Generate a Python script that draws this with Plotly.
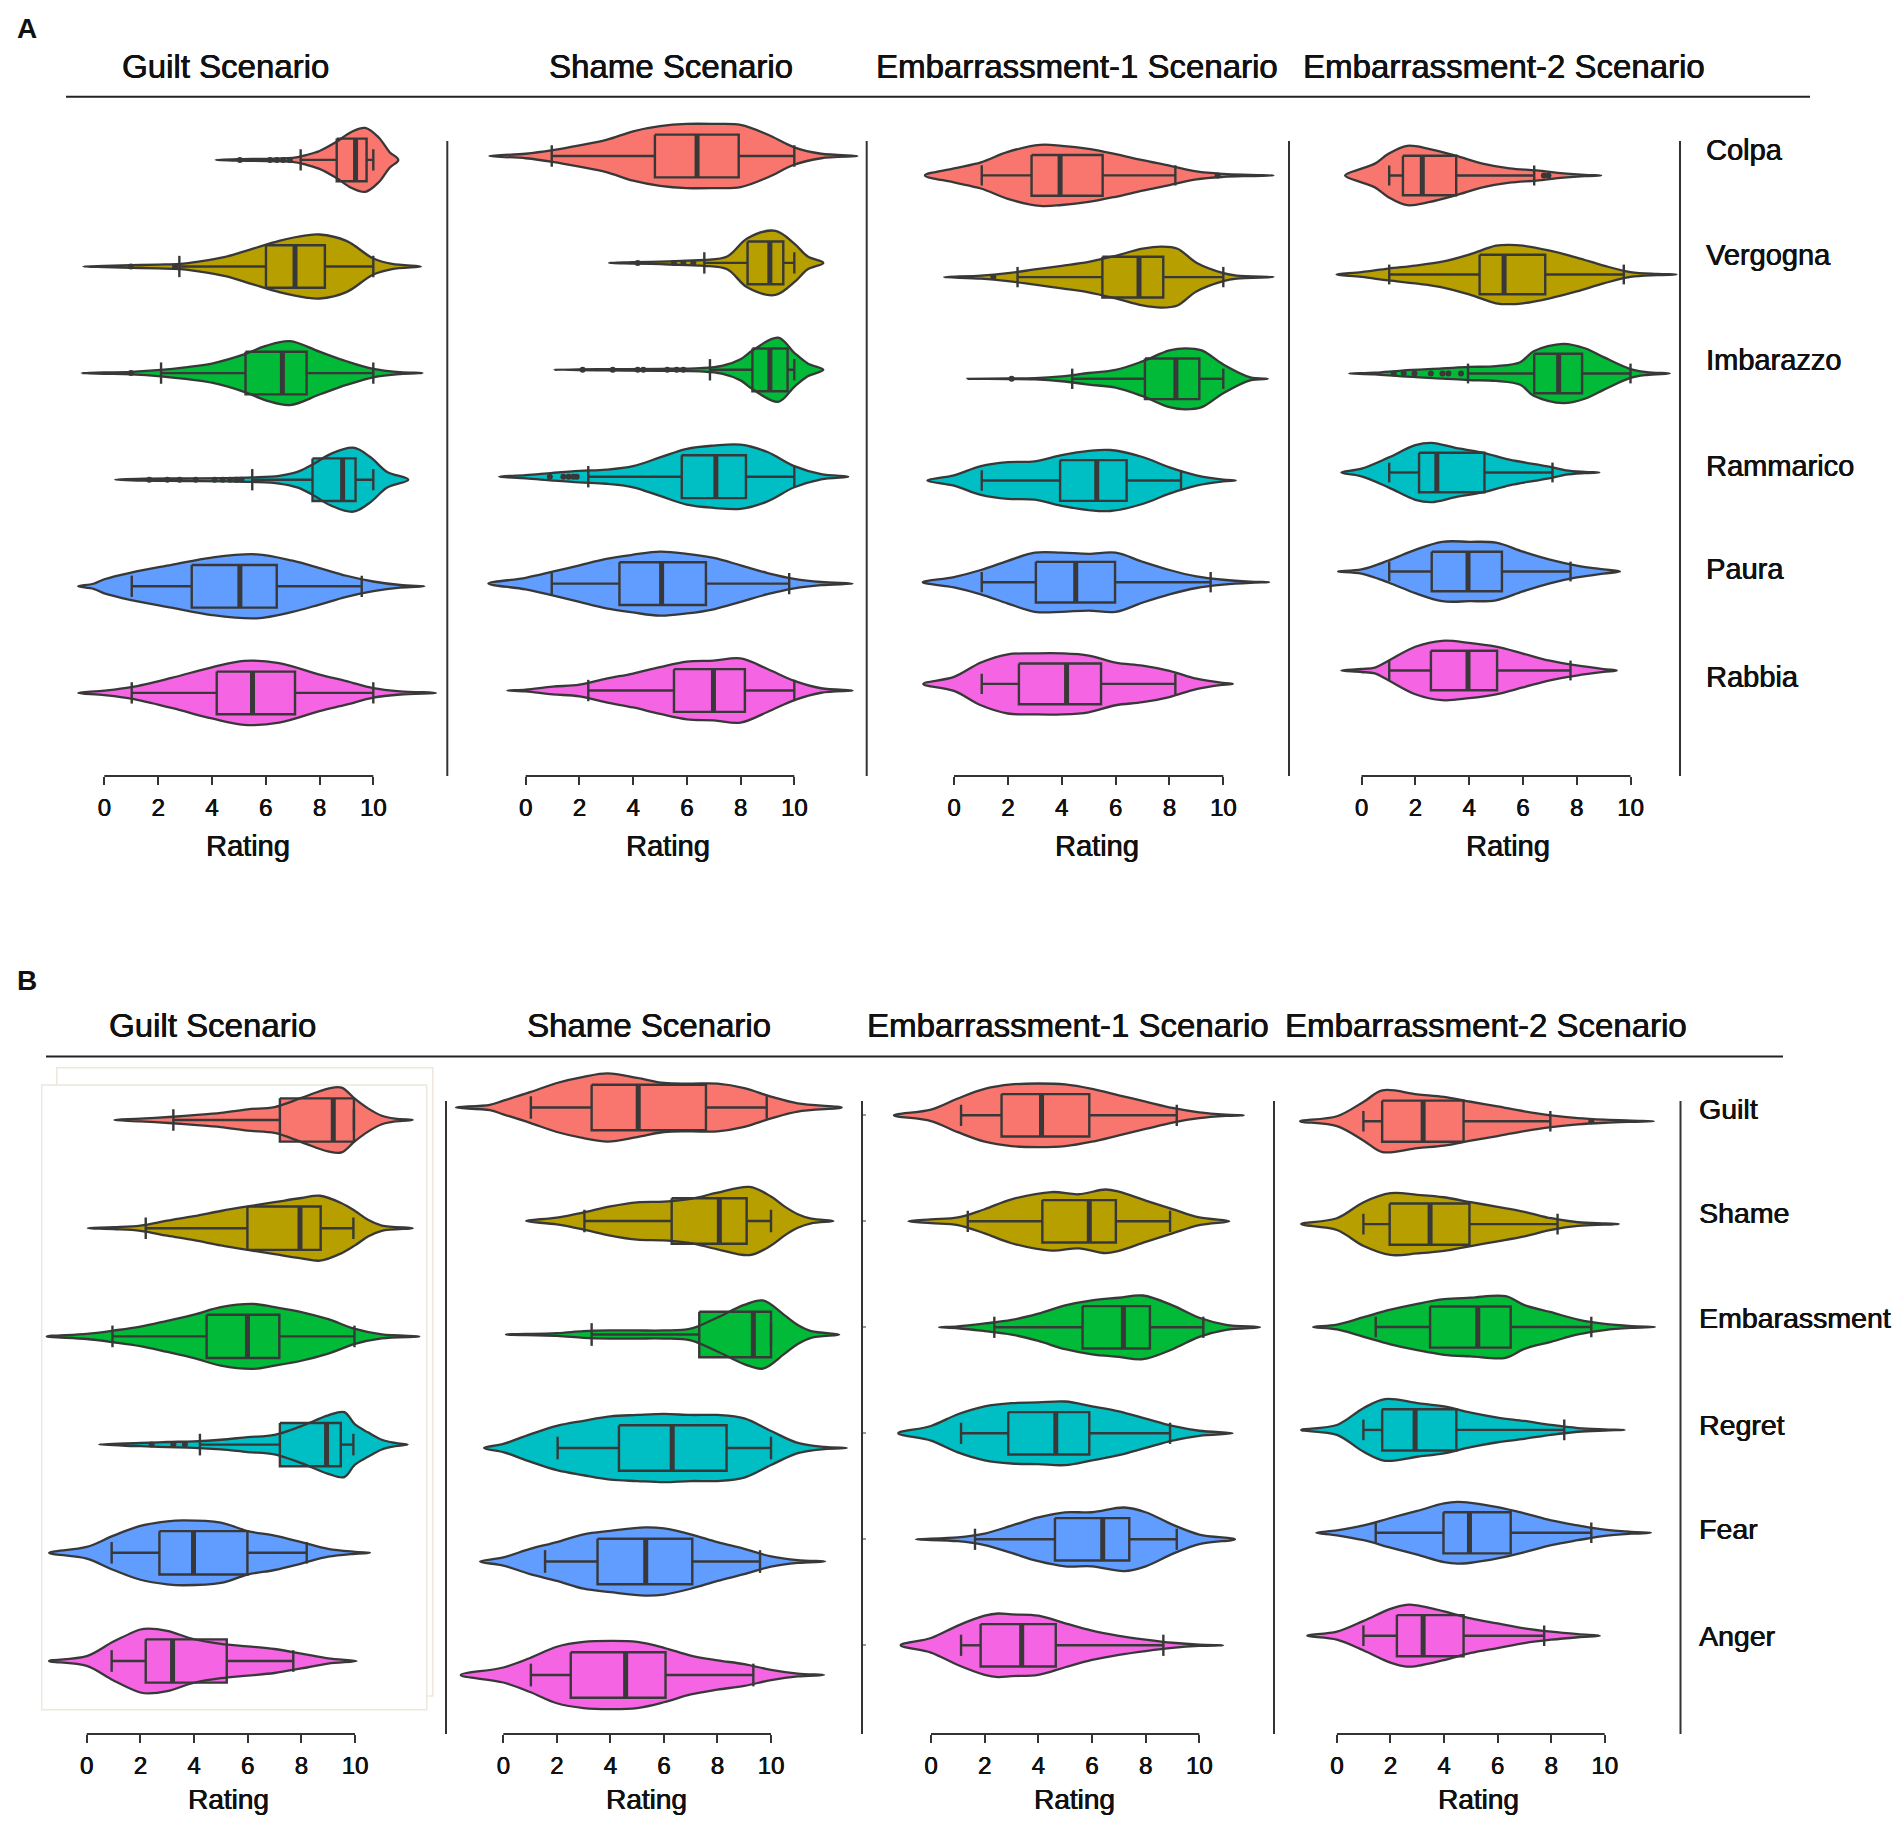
import plotly.graph_objects as go

# category names and titles
cats_a = ["Colpa", "Vergogna", "Imbarazzo", "Rammarico", "Paura", "Rabbia"]
cats_b = ["Guilt", "Shame", "Embarassment", "Regret", "Fear", "Anger"]
scenarios = ["Guilt Scenario", "Shame Scenario", "Embarrassment-1 Scenario", "Embarrassment-2 Scenario"]
rating_ticks = [0, 2, 4, 6, 8, 10]

# box stats per emotion: [lower whisker, q1, median, q3, upper whisker]
# violin outline: [rating, relative density] pairs
# ---- panel A ----
a_guilt_box = [[7.30, 8.64, 9.34, 9.75, 10.0], [2.79, 6.01, 7.09, 8.20, 10.0], [2.11, 5.25, 6.62, 7.52, 10.0],
               [5.50, 7.74, 8.86, 9.34, 10.0], [1.02, 3.25, 5.04, 6.41, 9.57], [1.02, 4.18, 5.51, 7.09, 10.0]]
a_guilt_out = [[5.04, 6.16, 6.41, 6.65, 6.9], [0.99, 2.63], [0.99],
               [1.67, 2.34, 2.8, 3.4, 4.1, 4.4, 4.67, 4.9, 5.1], [], []]
a_guilt_kde = [
    [[4.14, 0], [5.5, 0.03], [7.0, 0.06], [7.5, 0.15], [8.0, 0.28], [8.6, 0.55], [9.2, 0.88], [9.7, 1.0], [10.2, 0.7], [10.6, 0.25], [10.93, 0]],
    [[-0.78, 0], [0, 0.02], [1, 0.04], [2, 0.06], [2.8, 0.08], [3.5, 0.15], [4.5, 0.3], [5.5, 0.55], [6.5, 0.8], [7.5, 0.97], [8.0, 1.0], [9, 0.8], [10, 0.25], [10.7, 0.08], [11.77, 0]],
    [[-0.84, 0], [0, 0.02], [1, 0.04], [2.1, 0.1], [3, 0.18], [4, 0.3], [5.25, 0.6], [6.0, 0.85], [6.9, 1.0], [8, 0.67], [9, 0.37], [10, 0.13], [11, 0.03], [11.83, 0]],
    [[0.40, 0], [1.5, 0.03], [3, 0.04], [4.5, 0.05], [5.5, 0.07], [6.5, 0.12], [7.2, 0.25], [7.8, 0.5], [8.4, 0.8], [9.26, 1.0], [9.9, 0.7], [10.5, 0.25], [11.3, 0]],
    [[-0.97, 0], [-0.4, 0.08], [0, 0.22], [1, 0.43], [2.5, 0.67], [4, 0.9], [5.66, 1.0], [7, 0.8], [8, 0.57], [9, 0.33], [10, 0.15], [11, 0.04], [11.9, 0]],
    [[-0.97, 0], [0, 0.07], [1, 0.18], [2.5, 0.47], [4, 0.8], [5.2, 1.0], [6.5, 0.93], [8, 0.57], [9, 0.37], [10, 0.15], [11, 0.05], [12.33, 0]],
]

a_shame_box = [[0.97, 4.81, 6.38, 7.93, 10.0], [6.65, 8.26, 9.09, 9.59, 10.0], [6.86, 8.44, 9.09, 9.75, 10.0],
               [2.33, 5.81, 7.08, 8.20, 10.0], [0.97, 3.49, 5.06, 6.71, 9.81], [2.33, 5.52, 6.99, 8.16, 10.0]]
a_shame_out = [[], [4.17, 5.52, 5.87, 6.24], [2.12, 3.24, 4.17, 4.38, 5.27, 5.62, 5.87],
               [0.9, 1.4, 1.6, 1.78, 1.9], [], []]
a_shame_kde = [
    [[-1.35, 0], [0, 0.07], [1, 0.18], [2, 0.33], [3, 0.5], [4, 0.77], [5, 0.93], [6, 1.0], [7, 1.0], [8, 0.97], [9, 0.67], [10, 0.27], [11, 0.07], [12.35, 0]],
    [[3.1, 0], [4, 0.02], [5, 0.04], [6, 0.07], [6.65, 0.09], [7.5, 0.2], [8.26, 0.77], [9.3, 1.0], [10, 0.6], [10.5, 0.2], [11.08, 0]],
    [[1.05, 0], [3, 0.02], [5, 0.03], [6.5, 0.05], [7.3, 0.12], [8.0, 0.33], [8.44, 0.6], [9.4, 1.0], [10, 0.53], [10.5, 0.2], [11.08, 0]],
    [[-0.99, 0], [0, 0.05], [1, 0.12], [2, 0.18], [3, 0.22], [4, 0.33], [5, 0.6], [6, 0.87], [7, 0.97], [8, 1.0], [9, 0.77], [10, 0.33], [11, 0.08], [12.01, 0]],
    [[-1.39, 0], [0, 0.18], [1, 0.37], [2, 0.57], [3, 0.77], [4, 0.9], [5, 1.0], [6, 0.93], [7, 0.8], [8, 0.57], [9, 0.33], [10, 0.15], [11, 0.05], [12.17, 0]],
    [[-0.68, 0], [0, 0.03], [1, 0.12], [2, 0.18], [3, 0.37], [4, 0.53], [5, 0.73], [6, 0.9], [7, 0.93], [8, 1.0], [9, 0.67], [10, 0.3], [11, 0.07], [12.17, 0]],
]

a_emb1_box = [[1.03, 2.88, 3.94, 5.52, 8.22], [2.36, 5.51, 6.87, 7.77, 10.0], [4.39, 7.09, 8.24, 9.11, 10.0],
              [1.03, 3.94, 5.30, 6.41, 8.43], [1.03, 3.04, 4.52, 5.98, 9.53], [1.03, 2.41, 4.18, 5.46, 8.22]]
a_emb1_out = [[9.79], [1.46], [2.14], [], [], []]
a_emb1_kde = [
    [[-1.08, 0], [0, 0.23], [1, 0.43], [2, 0.77], [3.2, 1.0], [4, 0.97], [5, 0.87], [6, 0.7], [7, 0.5], [8, 0.32], [9, 0.13], [10, 0.05], [11, 0.02], [11.86, 0]],
    [[-0.37, 0], [1, 0.05], [2, 0.13], [3, 0.25], [4, 0.37], [5, 0.5], [6, 0.7], [7, 0.93], [7.7, 1.0], [8.3, 0.93], [9, 0.47], [10, 0.13], [10.5, 0.05], [11.86, 0]],
    [[0.5, 0], [2, 0.01], [3, 0.02], [4, 0.08], [5, 0.19], [6, 0.29], [7, 0.57], [8, 0.93], [8.6, 1.0], [9.2, 0.93], [10, 0.47], [11, 0.05], [11.65, 0]],
    [[-0.99, 0], [0, 0.17], [1, 0.47], [2, 0.6], [3, 0.63], [4, 0.83], [5, 0.97], [5.8, 1.0], [7, 0.77], [8, 0.43], [9, 0.17], [10, 0.03], [10.46, 0]],
    [[-1.16, 0], [0, 0.17], [1, 0.4], [2, 0.7], [3, 0.97], [4, 0.97], [5, 0.93], [6, 0.97], [7, 0.67], [8, 0.4], [9, 0.19], [10, 0.08], [11, 0.02], [11.7, 0]],
    [[-1.14, 0], [0, 0.23], [1, 0.7], [2, 0.97], [3, 1.0], [4, 1.0], [5, 0.93], [6, 0.7], [7, 0.6], [8, 0.43], [9, 0.17], [10, 0.03], [10.35, 0]],
]

a_emb2_box = [[1.03, 1.54, 2.26, 3.52, 6.42], [1.03, 4.39, 5.30, 6.83, 9.75], [3.96, 6.42, 7.33, 8.20, 10.0],
              [1.03, 2.14, 2.80, 4.57, 7.10], [1.03, 2.61, 3.96, 5.22, 7.77], [1.03, 2.58, 3.96, 5.04, 7.77]]
a_emb2_out = [[6.78, 6.95], [], [1.2, 1.57, 1.97, 2.58, 3.01, 3.23, 3.7], [], [], []]
a_emb2_kde = [
    [[-0.61, 0], [0, 0.23], [0.5, 0.4], [1, 0.73], [1.7, 1.0], [2.5, 0.9], [3.5, 0.67], [4.5, 0.4], [5.5, 0.24], [6.5, 0.17], [7.5, 0.07], [8.3, 0.02], [8.91, 0]],
    [[-0.93, 0], [0, 0.08], [1, 0.2], [2, 0.3], [3, 0.43], [4, 0.67], [5, 0.97], [5.5, 1.0], [6, 0.97], [7, 0.8], [8, 0.57], [9, 0.3], [10, 0.08], [11, 0.02], [11.71, 0]],
    [[-0.46, 0], [0.5, 0.03], [1.5, 0.1], [3, 0.17], [4, 0.22], [5, 0.25], [5.9, 0.38], [6.4, 0.75], [7.5, 1.0], [8.3, 0.85], [9, 0.55], [10, 0.15], [10.6, 0.05], [11.46, 0]],
    [[-0.75, 0], [0, 0.13], [1, 0.5], [2, 0.92], [2.6, 1.0], [3.5, 0.83], [4.5, 0.67], [5.5, 0.43], [6.5, 0.27], [7.1, 0.17], [7.6, 0.07], [8.3, 0.02], [8.84, 0]],
    [[-0.87, 0], [0, 0.07], [1, 0.37], [2, 0.73], [3, 1.0], [4, 1.0], [5, 0.97], [6, 0.67], [7, 0.4], [8, 0.2], [9, 0.07], [9.61, 0]],
    [[-0.75, 0], [0, 0.05], [0.5, 0.1], [1, 0.33], [2, 0.8], [3, 1.0], [4, 0.93], [5, 0.8], [6, 0.57], [7, 0.33], [8, 0.17], [9, 0.05], [9.49, 0]],
]

# ---- panel B ----
b_guilt_box = [[3.23, 7.20, 9.19, 9.96, 9.96], [2.20, 5.99, 7.95, 8.72, 9.94], [0.96, 4.47, 5.99, 7.18, 9.98],
               [4.22, 7.20, 8.94, 9.47, 9.94], [0.93, 2.71, 3.98, 5.99, 8.20], [0.93, 2.20, 3.20, 5.22, 7.70]]
b_guilt_out = [[], [], [], [2.42, 3.23, 3.66], [], []]
b_guilt_kde = [
    [[1.03, 0], [2, 0.04], [3.2, 0.1], [4, 0.15], [5, 0.22], [6, 0.33], [7, 0.4], [8, 0.68], [9, 0.97], [9.5, 1.0], [10, 0.65], [10.5, 0.35], [11, 0.13], [11.5, 0.04], [12.15, 0]],
    [[0.04, 0], [1, 0.03], [2, 0.08], [3, 0.23], [4, 0.37], [5, 0.53], [6, 0.67], [7, 0.8], [8, 0.93], [8.7, 1.0], [9.5, 0.77], [10, 0.53], [10.5, 0.25], [11, 0.08], [12.15, 0]],
    [[-1.49, 0], [0, 0.08], [1, 0.18], [2, 0.3], [3, 0.48], [4, 0.67], [5, 0.9], [6.2, 1.0], [7, 0.9], [8, 0.75], [9, 0.53], [10, 0.23], [11, 0.06], [12.4, 0]],
    [[0.46, 0], [2, 0.05], [3, 0.08], [4, 0.1], [5, 0.15], [6, 0.23], [7, 0.3], [8, 0.57], [9, 0.9], [9.6, 1.0], [10, 0.62], [10.5, 0.37], [11, 0.15], [11.5, 0.05], [11.96, 0]],
    [[-1.4, 0], [0, 0.18], [1, 0.53], [2, 0.83], [3, 0.97], [3.6, 1.0], [5, 0.93], [6, 0.67], [7, 0.53], [8, 0.33], [9, 0.12], [10, 0.03], [10.56, 0]],
    [[-1.4, 0], [0, 0.15], [1, 0.6], [2, 0.97], [2.3, 1.0], [3, 0.93], [4, 0.67], [5, 0.53], [6, 0.45], [7, 0.37], [8, 0.23], [9, 0.08], [10.06, 0]],
]

b_shame_box = [[1.03, 3.30, 5.04, 7.57, 9.84], [3.03, 6.29, 8.07, 9.09, 10.0], [3.30, 7.32, 9.34, 10.0, 10.0],
               [2.03, 4.32, 6.31, 8.34, 10.0], [1.56, 3.52, 5.32, 7.06, 9.59], [1.03, 2.52, 4.57, 6.06, 9.34]]
b_shame_out = [[], [], [], [], [], []]
b_shame_kde = [
    [[-1.77, 0], [-0.5, 0.08], [0, 0.2], [1, 0.45], [2, 0.72], [3, 0.9], [3.9, 1.0], [5, 0.87], [6, 0.72], [7, 0.7], [8, 0.7], [9, 0.57], [10, 0.32], [11, 0.12], [12.64, 0]],
    [[0.85, 0], [2, 0.1], [3, 0.25], [4, 0.43], [5, 0.55], [6, 0.57], [7, 0.65], [8, 0.83], [9.2, 1.0], [10, 0.72], [10.5, 0.43], [11, 0.2], [11.5, 0.07], [12.33, 0]],
    [[0.1, 0], [2, 0.04], [3, 0.1], [4, 0.12], [5, 0.12], [6, 0.12], [7, 0.17], [8, 0.5], [9, 0.87], [9.7, 1.0], [10.5, 0.57], [11, 0.28], [11.5, 0.1], [12.55, 0]],
    [[-0.72, 0], [0, 0.12], [1, 0.4], [2, 0.65], [3, 0.8], [4, 0.93], [5, 0.97], [6, 1.0], [7, 0.97], [8, 0.97], [9, 0.87], [10, 0.5], [11, 0.15], [12, 0.03], [12.83, 0]],
    [[-0.87, 0], [0, 0.12], [1, 0.37], [2, 0.57], [3, 0.8], [4, 0.9], [5.3, 1.0], [6, 0.97], [7, 0.8], [8, 0.57], [9, 0.37], [10, 0.15], [11, 0.04], [12.02, 0]],
    [[-1.59, 0], [0, 0.22], [1, 0.5], [2, 0.83], [3, 0.97], [4, 1.0], [5, 0.97], [6, 0.8], [7, 0.57], [8, 0.43], [9, 0.32], [10, 0.15], [11, 0.04], [11.98, 0]],
]

b_emb1_box = [[1.12, 2.63, 4.12, 5.90, 9.16], [1.37, 4.15, 5.90, 6.89, 8.91], [2.36, 5.65, 7.17, 8.16, 10.15],
              [1.12, 2.88, 4.65, 5.90, 8.91], [1.64, 4.62, 6.40, 7.39, 9.16], [1.12, 1.85, 3.38, 4.65, 8.66]]
b_emb1_out = [[], [], [], [], [], []]
b_emb1_kde = [
    [[-1.38, 0], [0, 0.18], [1, 0.53], [2, 0.83], [3, 0.97], [4, 1.0], [5, 0.97], [6, 0.83], [7, 0.63], [8, 0.43], [9, 0.23], [10, 0.09], [11, 0.02], [11.66, 0]],
    [[-0.84, 0], [0, 0.06], [1, 0.12], [2, 0.38], [3, 0.69], [4.5, 0.92], [5.5, 0.85], [6.5, 1.0], [7, 0.93], [8, 0.65], [9, 0.38], [10, 0.12], [11.12, 0]],
    [[0.3, 0], [1, 0.03], [2, 0.12], [3, 0.23], [4, 0.43], [5, 0.69], [6, 0.85], [7, 0.93], [7.9, 1.0], [9, 0.69], [10, 0.3], [11, 0.08], [12.26, 0]],
    [[-1.22, 0], [0, 0.23], [1, 0.6], [2, 0.85], [3, 0.95], [4, 0.97], [5, 1.0], [6, 0.85], [7, 0.69], [8, 0.46], [9, 0.23], [10, 0.08], [11.24, 0]],
    [[-0.56, 0], [1, 0.06], [2, 0.18], [3, 0.43], [4, 0.69], [5, 0.85], [6, 0.85], [7.2, 1.0], [8, 0.85], [9, 0.46], [10, 0.15], [11.33, 0]],
    [[-1.13, 0], [0, 0.23], [1, 0.62], [2, 0.93], [2.5, 1.0], [3, 0.97], [4, 0.93], [5, 0.69], [6, 0.46], [7, 0.3], [8, 0.18], [9, 0.08], [10, 0.02], [10.89, 0]],
]

b_emb2_box = [[0.99, 1.69, 3.22, 4.73, 7.97], [0.99, 1.97, 3.48, 4.95, 8.24], [1.45, 3.48, 5.26, 6.49, 9.50],
              [0.99, 1.69, 2.92, 4.46, 8.49], [1.45, 3.98, 4.95, 6.49, 9.50], [0.99, 2.24, 3.22, 4.73, 7.74]]
b_emb2_out = [[9.5], [], [], [], [], []]
b_emb2_kde = [
    [[-1.37, 0], [0, 0.16], [1, 0.63], [1.7, 1.0], [3, 0.87], [4, 0.79], [5, 0.63], [6, 0.48], [7, 0.32], [8, 0.19], [9, 0.1], [10, 0.05], [11, 0.02], [11.84, 0]],
    [[-1.33, 0], [0, 0.19], [1, 0.71], [2, 1.0], [3, 0.95], [4, 0.87], [5, 0.71], [6, 0.56], [7, 0.4], [8, 0.19], [9, 0.06], [10, 0.02], [10.53, 0]],
    [[-0.89, 0], [0, 0.08], [1, 0.32], [2, 0.56], [3, 0.75], [4, 0.9], [5, 0.95], [6.3, 1.0], [7, 0.71], [8, 0.48], [9, 0.24], [10, 0.1], [11, 0.03], [11.88, 0]],
    [[-1.33, 0], [0, 0.16], [1, 0.71], [1.8, 1.0], [3, 0.87], [4, 0.76], [5, 0.56], [6, 0.4], [7, 0.29], [8, 0.16], [9, 0.06], [10, 0.02], [10.75, 0]],
    [[-0.77, 0], [0, 0.08], [1, 0.24], [2, 0.48], [3, 0.71], [4, 0.95], [4.5, 1.0], [5, 0.97], [6, 0.83], [7, 0.63], [8, 0.4], [9, 0.24], [10, 0.1], [11, 0.03], [11.73, 0]],
    [[-1.11, 0], [0, 0.13], [1, 0.48], [2, 0.87], [2.6, 1.0], [3, 0.98], [4, 0.79], [5, 0.56], [6, 0.4], [7, 0.24], [8, 0.13], [9, 0.05], [9.82, 0]],
]

panels = [
    (a_guilt_box, a_guilt_kde, a_guilt_out), (a_shame_box, a_shame_kde, a_shame_out),
    (a_emb1_box, a_emb1_kde, a_emb1_out), (a_emb2_box, a_emb2_kde, a_emb2_out),
    (b_guilt_box, b_guilt_kde, b_guilt_out), (b_shame_box, b_shame_kde, b_shame_out),
    (b_emb1_box, b_emb1_kde, b_emb1_out), (b_emb2_box, b_emb2_kde, b_emb2_out),
]

# ---- layout, in pixels of the 1902x1827 page ----
PAGE_W, PAGE_H = 1902, 1827
OFF = 8  # the page body keeps its default 8px margin
W, H = PAGE_W - 2 * OFF, PAGE_H - 2 * OFF
FONT = "Liberation Sans, Arial, Helvetica, sans-serif"
SHADOW = "0.45px 0 0 #111, -0.2px 0 0 #111"
colors = ["#F8766D", "#B79F00", "#00BA38", "#00BFC4", "#619CFF", "#F564E3"]
edge = "#383838"

# left, right, px of rating 0, px of rating 10, px of first row, row spacing, px of x axis
geom = [
    (40, 447.3, 104.3, 373.3, 159.9, 106.6, 776),
    (447.3, 866.7, 525.7, 794.3, 156.0, 106.9, 776),
    (866.7, 1289, 954.0, 1223.3, 175.4, 101.7, 776),
    (1289, 1680, 1361.5, 1630.5, 175.5, 99.0, 776),
    (30, 446, 86.7, 355.0, 1120.0, 108.2, 1734),
    (446, 862, 503.3, 771.0, 1107.5, 113.5, 1734),
    (862, 1274, 931.0, 1199.3, 1115.3, 106.0, 1734),
    (1274, 1680.5, 1336.9, 1604.7, 1121.2, 102.9, 1734),
]
line_top = [141, 141, 141, 141, 1101, 1101, 1101, 1101]
half_w = 0.3    # max half height of a violin (category units)
box_w = 0.4
cap = 0.1


def px(x):
    return (x - OFF) / W


def py(y):
    return 1 - (y - OFF) / H


fig = go.Figure()
shapes = []
annotations = []

for i, (boxes, kdes, outs) in enumerate(panels):
    n = i + 1
    xa, ya = ("x", "y") if n == 1 else (f"x{n}", f"y{n}")
    left, right, zero, ten, row0, sp, axis = geom[i]
    ppu = (ten - zero) / 10
    top_u = -0.75
    bot_u = (axis - row0) / sp

    fig.layout[f"xaxis{'' if n == 1 else n}"] = dict(
        domain=[px(left), px(right)], range=[(left - zero) / ppu, (right - zero) / ppu],
        anchor=ya, tickvals=rating_ticks, ticks="outside", ticklen=8, tickwidth=2, tickcolor="#333",
        showline=False, showgrid=False, zeroline=False, ticklabelstandoff=2,
        tickfont=dict(family=FONT, size=24, color="#111", shadow=SHADOW))
    yax = dict(domain=[py(axis), py(row0 + top_u * sp)], range=[bot_u, top_u], anchor=xa,
               showgrid=False, zeroline=False, showline=False, showticklabels=False, ticks="")
    if n == 7:
        # tiny leftover tick marks on this panel's left edge
        yax.update(ticks="inside", ticklen=4, tickwidth=1.5, tickcolor="#9a9a9a", tickvals=list(range(6)))
    fig.layout[f"yaxis{'' if n == 1 else n}"] = yax

    for k in range(6):
        lo, q1, med, q3, hi = boxes[k]
        col = colors[k]
        b0, b1 = k - box_w / 2, k + box_w / 2
        # box fill under the violin
        fig.add_trace(go.Scatter(x=[q1, q3, q3, q1, q1], y=[b0, b0, b1, b1, b0], mode="none",
                                 fill="toself", fillcolor=col, xaxis=xa, yaxis=ya, hoverinfo="skip"))
        # violin
        xs = [p[0] for p in kdes[k]]
        ds = [p[1] for p in kdes[k]]
        vx = xs + xs[-2:0:-1] + [xs[0]]
        vy = [k - half_w * d for d in ds] + [k + half_w * d for d in ds[-2:0:-1]] + [k]
        fig.add_trace(go.Scatter(x=vx, y=vy, mode="lines", fill="toself", fillcolor=col,
                                 line=dict(color=edge, width=2.3, shape="spline", smoothing=1.0),
                                 xaxis=xa, yaxis=ya, hoverinfo="skip"))
        # box outline, whiskers and caps
        bx = [q1, q3, q3, q1, q1, None, lo, q1, None, q3, hi, None, lo, lo, None, hi, hi]
        by = [b0, b0, b1, b1, b0, None, k, k, None, k, k, None, k - cap, k + cap, None, k - cap, k + cap]
        fig.add_trace(go.Scatter(x=bx, y=by, mode="lines", line=dict(color=edge, width=2.4),
                                 xaxis=xa, yaxis=ya, hoverinfo="skip"))
        # thick median
        fig.add_trace(go.Scatter(x=[med, med], y=[b0, b1], mode="lines",
                                 line=dict(color=edge, width=5), xaxis=xa, yaxis=ya, hoverinfo="skip"))
        if outs[k]:
            fig.add_trace(go.Scatter(x=outs[k], y=[k] * len(outs[k]), mode="markers",
                                     marker=dict(color=edge, size=6), xaxis=xa, yaxis=ya, hoverinfo="skip"))

    # trimmed x axis line from 0 to 10
    shapes.append(dict(type="line", xref=xa, yref=f"{ya} domain", x0=rating_ticks[0], x1=rating_ticks[-1],
                       y0=0, y1=0, line=dict(color="#333", width=2)))
    # vertical separator on the right edge
    shapes.append(dict(type="line", xref="paper", yref="paper", x0=px(right), x1=px(right),
                       y0=py(line_top[i]), y1=py(axis), line=dict(color="#333", width=2)))

# faint frames left over in panel B (first plot)
shapes.insert(0, dict(type="rect", xref="paper", yref="paper", x0=px(56.7), x1=px(432.7), y0=py(1696), y1=py(1067.7),
                      line=dict(color="#ede7dc", width=1.5), fillcolor="white", layer="below"))
shapes.insert(1, dict(type="rect", xref="paper", yref="paper", x0=px(41.7), x1=px(426.7), y0=py(1709.7), y1=py(1085),
                      line=dict(color="#ede7dc", width=1.5), fillcolor="white", layer="below"))

# header rules
shapes.append(dict(type="line", xref="paper", yref="paper", x0=px(66), x1=px(1810), y0=py(96.7), y1=py(96.7),
                   line=dict(color="#222", width=2)))
shapes.append(dict(type="line", xref="paper", yref="paper", x0=px(46), x1=px(1783), y0=py(1056.5), y1=py(1056.5),
                   line=dict(color="#222", width=2)))


def text(s, x, y, size, anchor="center", bold=False):
    annotations.append(dict(text=f"<b>{s}</b>" if bold else s, x=px(x), y=py(y), xref="paper", yref="paper",
                            xanchor=anchor, yanchor="middle", showarrow=False,
                            font=dict(family=FONT, size=size, color="#111", shadow="none" if bold else SHADOW)))


text("A", 27, 28.5, 28, bold=True)
text("B", 27, 980, 28, bold=True)

for s, x in zip(scenarios, [225.5, 670.8, 1077, 1504]):
    text(s, x, 66.7, 33)
for s, x in zip(scenarios, [212.5, 649, 1067.5, 1486]):
    text(s, x, 1025, 33)

for x in [247.5, 668, 1097, 1507.5]:
    text("Rating", x, 846.4, 29)
for x in [228.5, 646, 1074, 1478.5]:
    text("Rating", x, 1799, 28)

for s, y in zip(cats_a, [150, 255, 359.5, 466.1, 569.3, 676.9]):
    text(s, 1704, y, 29, anchor="left")
for s, y in zip(cats_b, [1108.9, 1212.6, 1317.8, 1424.5, 1528.7, 1636.3]):
    text(s, 1697, y, 28.5, anchor="left")

fig.update_layout(width=W, height=H, margin=dict(l=0, r=0, t=0, b=0), showlegend=False,
                  paper_bgcolor="white", plot_bgcolor="rgba(0,0,0,0)",
                  shapes=shapes, annotations=annotations)

fig.write_html("out.html")
